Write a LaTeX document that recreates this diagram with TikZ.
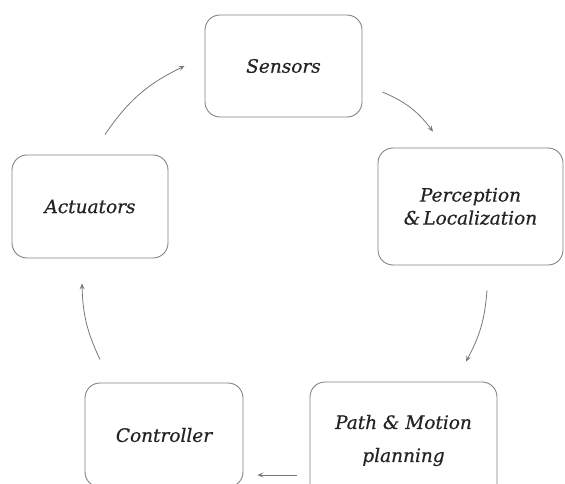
\documentclass[tikz,border=0pt]{standalone}
\usepackage{fontspec}
\setmainfont{DejaVu Serif}[ItalicFeatures={FakeBold=0.6}]
\usetikzlibrary{arrows.meta}
\definecolor{boxgray}{RGB}{130,130,130}
\definecolor{txtgray}{RGB}{35,35,35}
\definecolor{arrgray}{RGB}{120,120,120}
\begin{document}
\begin{tikzpicture}[x=1pt,y=1pt,
  stagebox/.style={draw=boxgray, line width=0.9pt, rounded corners=15pt, text=txtgray,
    font=\fontsize{18.5}{24}\selectfont\itshape, align=center, inner sep=0pt},
  arr/.style={draw=arrgray, line width=0.8pt, -{Stealth[length=6pt,width=5pt,inset=2.5pt]}}]
\useasboundingbox (0,0) rectangle (565,483);
\begin{scope}
\clip (0,0) rectangle (565,483);
\node[stagebox, minimum width=157pt, minimum height=102pt] (sens) at (283.5,417) {Sensors};
\node[stagebox, minimum width=185pt, minimum height=117pt] (perc) at (470.5,276.5) {Perception\\[-1pt]\&\,Localization};
\node[stagebox, minimum width=156pt, minimum height=103pt] (act) at (90,276.5) {Actuators};
\node[stagebox, minimum width=158pt, minimum height=104pt] (ctrl) at (164,48) {Controller};
\node[stagebox, minimum width=187pt, minimum height=117pt] (path) at (403.5,42.5) {Path \& Motion\\[9pt]planning};
\end{scope}
\draw[arr] ([shift={(15,20)}]act.north) to[bend left=15] ([shift={(-20,0)}]sens.west);
\draw[arr] ([shift={(20,-26)}]sens.east) to[bend left=15] ([shift={(-37.5,16)}]perc.north);
\draw[arr] ([shift={(16.5,-25)}]perc.south) to[bend left=12] ([shift={(62.5,20)}]path.north);
\draw[arr] ([shift={(-13,-34.5)}]path.west) -- ([shift={(14,-40)}]ctrl.east);
\draw[arr] ([shift={(-64,23)}]ctrl.north) to[bend left=12] ([shift={(-8,-25)}]act.south);
\end{tikzpicture}
\end{document}
